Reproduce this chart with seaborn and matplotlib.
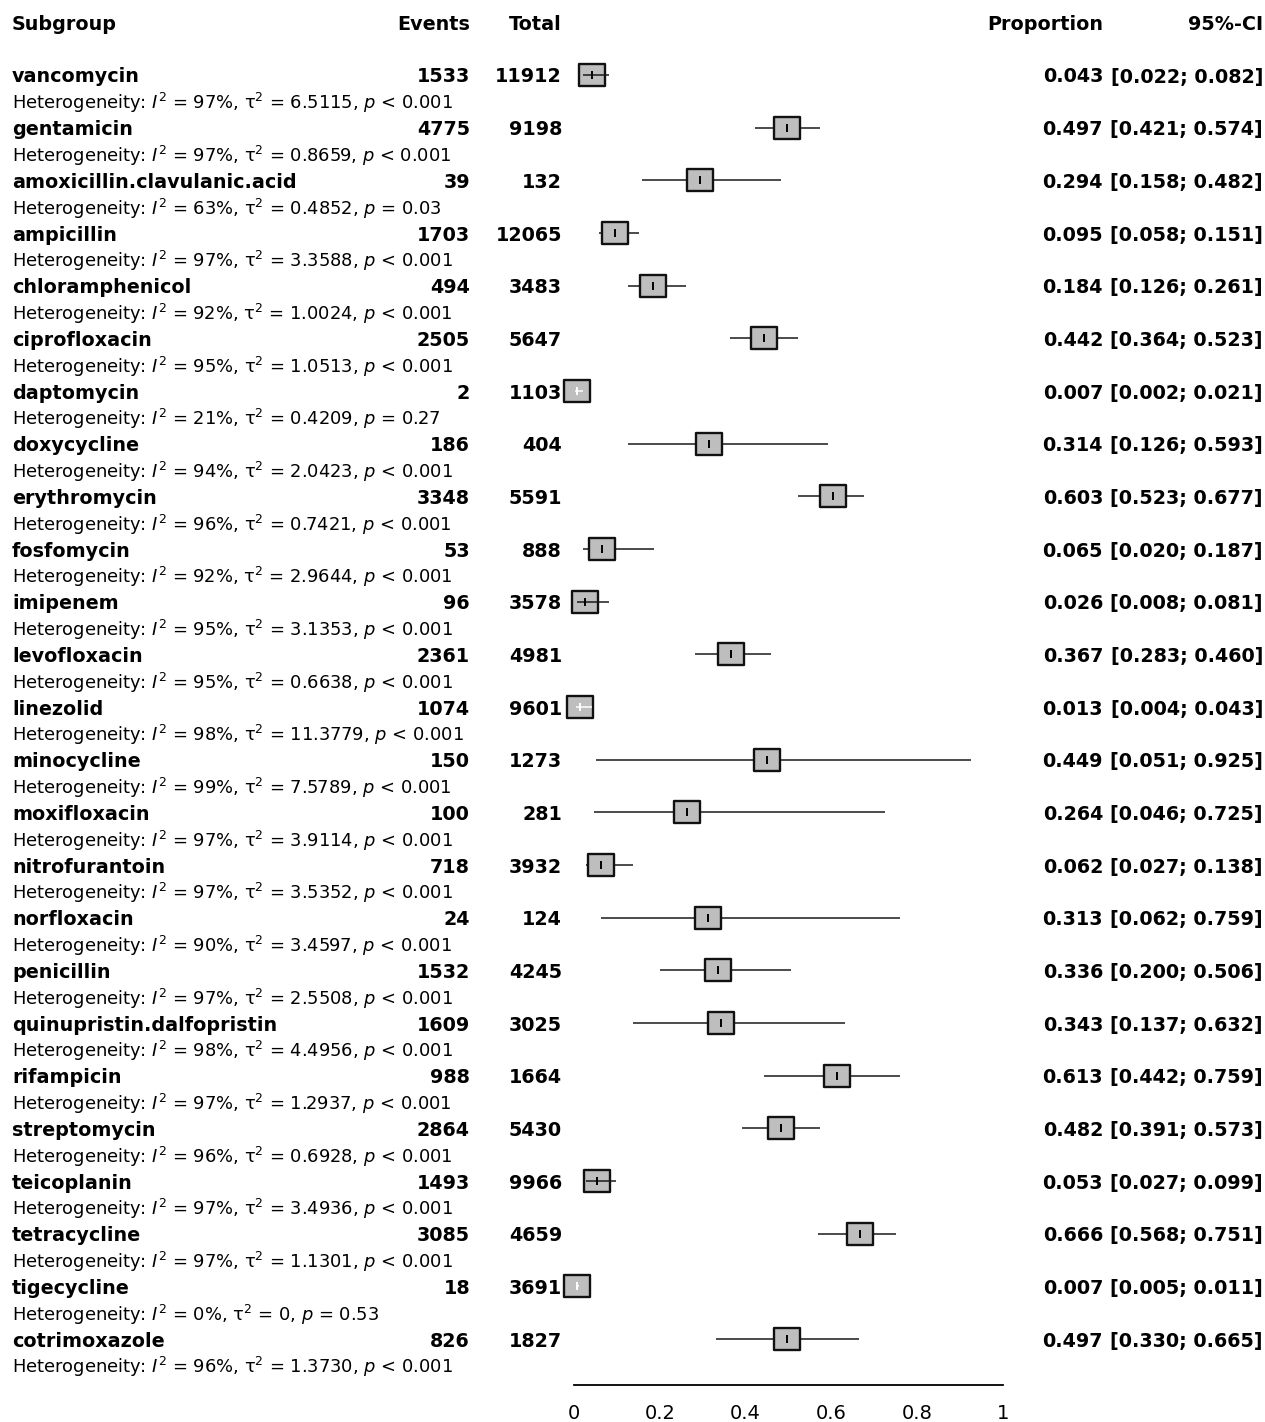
import numpy as np
import pandas as pd
import matplotlib
matplotlib.use("Agg")
import matplotlib.pyplot as plt
from matplotlib.path import Path
import seaborn as sns

# dados do forest plot (subgrupos)
subgroups = ["vancomycin", "gentamicin", "amoxicillin.clavulanic.acid", "ampicillin",
             "chloramphenicol", "ciprofloxacin", "daptomycin", "doxycycline",
             "erythromycin", "fosfomycin", "imipenem", "levofloxacin", "linezolid",
             "minocycline", "moxifloxacin", "nitrofurantoin", "norfloxacin",
             "penicillin", "quinupristin.dalfopristin", "rifampicin", "streptomycin",
             "teicoplanin", "tetracycline", "tigecycline", "cotrimoxazole"]
events = [1533, 4775, 39, 1703, 494, 2505, 2, 186, 3348, 53, 96, 2361, 1074,
          150, 100, 718, 24, 1532, 1609, 988, 2864, 1493, 3085, 18, 826]
totals = [11912, 9198, 132, 12065, 3483, 5647, 1103, 404, 5591, 888, 3578, 4981,
          9601, 1273, 281, 3932, 124, 4245, 3025, 1664, 5430, 9966, 4659, 3691, 1827]
proportion = [0.043, 0.497, 0.294, 0.095, 0.184, 0.442, 0.007, 0.314, 0.603, 0.065,
              0.026, 0.367, 0.013, 0.449, 0.264, 0.062, 0.313, 0.336, 0.343, 0.613,
              0.482, 0.053, 0.666, 0.007, 0.497]
ci_low = [0.022, 0.421, 0.158, 0.058, 0.126, 0.364, 0.002, 0.126, 0.523, 0.020,
          0.008, 0.283, 0.004, 0.051, 0.046, 0.027, 0.062, 0.200, 0.137, 0.442,
          0.391, 0.027, 0.568, 0.005, 0.330]
ci_high = [0.082, 0.574, 0.482, 0.151, 0.261, 0.523, 0.021, 0.593, 0.677, 0.187,
           0.081, 0.460, 0.043, 0.925, 0.725, 0.138, 0.759, 0.506, 0.632, 0.759,
           0.573, 0.099, 0.751, 0.011, 0.665]
i2 = [97, 97, 63, 97, 92, 95, 21, 94, 96, 92, 95, 95, 98, 99, 97, 97, 90, 97, 98,
      97, 96, 97, 97, 0, 96]
tau2 = ["6.5115", "0.8659", "0.4852", "3.3588", "1.0024", "1.0513", "0.4209",
        "2.0423", "0.7421", "2.9644", "3.1353", "0.6638", "11.3779", "7.5789",
        "3.9114", "3.5352", "3.4597", "2.5508", "4.4956", "1.2937", "0.6928",
        "3.4936", "1.1301", "0", "1.3730"]
pval = ["< 0.001", "< 0.001", "= 0.03", "< 0.001", "< 0.001", "< 0.001", "= 0.27",
        "< 0.001", "< 0.001", "< 0.001", "< 0.001", "< 0.001", "< 0.001", "< 0.001",
        "< 0.001", "< 0.001", "< 0.001", "< 0.001", "< 0.001", "< 0.001", "< 0.001",
        "< 0.001", "< 0.001", "= 0.53", "< 0.001"]
x_ticks = [0, 0.2, 0.4, 0.6, 0.8, 1]
x_tick_labels = ["0", "0.2", "0.4", "0.6", "0.8", "1"]

df = pd.DataFrame({"subgroup": subgroups, "events": events, "total": totals,
                   "prop": proportion, "lo": ci_low, "hi": ci_high})
df["row"] = np.arange(len(df))

# estilo
sns.set_style("white")
plt.rcParams["font.family"] = ["DejaVu Sans"]
plt.rcParams["mathtext.fontset"] = "dejavusans"
plt.rcParams["text.color"] = "black"

W, H = 1265, 1422
row_top, row_step = 75, 52.67
axis_px = 1385
fig = plt.figure(figsize=(W / 100, H / 100), dpi=100)
ax = fig.add_axes([574 / W, 1 - axis_px / H, 429 / W, axis_px / H])
ax.set_xlim(0, 1)
ax.set_ylim((axis_px - row_top) / row_step, -row_top / row_step)

# caixa: meia largura em unidades de dados
box_w_px, box_h_px = 27, 23
half_box = box_w_px / 2 / 429
h = box_h_px / box_w_px
box_marker = Path([(-1, -h), (1, -h), (1, h), (-1, h), (-1, -h)],
                  [Path.MOVETO, Path.LINETO, Path.LINETO, Path.LINETO, Path.CLOSEPOLY])

inside = (df["lo"] >= df["prop"] - half_box) & (df["hi"] <= df["prop"] + half_box)
partial = ~inside & ((df["lo"] > df["prop"] - half_box) | (df["hi"] < df["prop"] + half_box))
outer = ~inside & ~partial

# linhas de IC por baixo das caixas
d = df[outer]
ax.hlines(d["row"], d["lo"], d["hi"], color="#1a1a1a", lw=1.1, zorder=1, clip_on=False)

sns.scatterplot(data=df, x="prop", y="row", marker=box_marker, s=(box_w_px * 0.72) ** 2,
                color="#bebebe", edgecolor="#111111", linewidth=1.7, zorder=2,
                clip_on=False, legend=False, ax=ax)

d = df[partial]
ax.hlines(d["row"], d["lo"], d["hi"], color="#1a1a1a", lw=1.1, zorder=3, clip_on=False)
d = df[inside]
ax.hlines(d["row"], d["lo"], d["hi"], color="white", lw=1.1, zorder=3, clip_on=False)

sns.scatterplot(data=df[~inside], x="prop", y="row", marker="|", s=40, color="black",
                linewidth=1.4, zorder=4, clip_on=False, legend=False, ax=ax)
sns.scatterplot(data=df[inside], x="prop", y="row", marker="|", s=40, color="white",
                linewidth=1.4, zorder=4, clip_on=False, legend=False, ax=ax)

# eixo
sns.despine(ax=ax, left=True, top=True, right=True)
ax.spines["bottom"].set_bounds(0, 1)
ax.spines["bottom"].set_linewidth(1.3)
ax.spines["bottom"].set_color("black")
ax.set_yticks([])
ax.set_xticks(x_ticks)
ax.set_xticklabels(x_tick_labels, fontsize=14)
ax.tick_params(axis="x", direction="out", length=8.5, width=1.3, pad=5, colors="black")
ax.set_xlabel("")
ax.set_ylabel("")
ax.grid(False)

# colunas de texto
tr = matplotlib.transforms.blended_transform_factory(fig.transFigure, ax.transData)
fs = 13.8
dy = 2 / row_step  # pequeno ajuste vertical
header_y = -(row_top - 23) / row_step + dy
for lab, xp, ha in [("Subgroup", 12, "left"), ("Events", 470, "right"), ("Total", 562, "right"),
                    ("Proportion", 1103, "right"), ("95%-CI", 1263, "right")]:
    ax.text(xp / W, header_y, lab, transform=tr, ha=ha, va="center", fontsize=fs,
            fontweight="bold", clip_on=False)

for i, r in df.iterrows():
    y = r["row"] + dy
    kw = dict(transform=tr, va="center", fontsize=fs, fontweight="bold", clip_on=False)
    ax.text(12 / W, y, r["subgroup"], ha="left", **kw)
    ax.text(470 / W, y, f"{r['events']}", ha="right", **kw)
    ax.text(562 / W, y, f"{r['total']}", ha="right", **kw)
    ax.text(1103 / W, y, f"{r['prop']:.3f}", ha="right", **kw)
    ax.text(1263 / W, y, f"[{r['lo']:.3f}; {r['hi']:.3f}]", ha="right", **kw)
    het = f"Heterogeneity: $I^2$ = {i2[i]}%, τ$^2$ = {tau2[i]}, $p$ {pval[i]}"
    ax.text(12 / W, y + 0.5, het, transform=tr, ha="left", va="center", fontsize=12.9,
            clip_on=False)

fig.savefig("out.png", dpi=100)
